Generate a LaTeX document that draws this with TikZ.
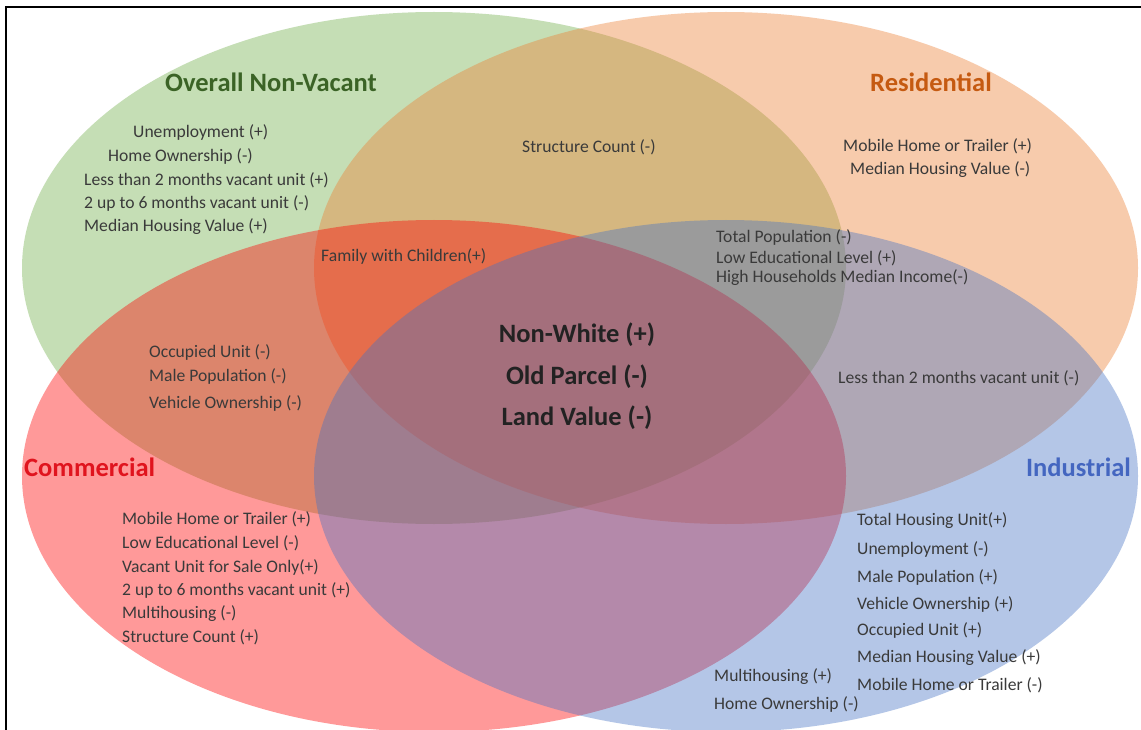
\documentclass[tikz,border=0pt]{standalone}
\usepackage{fontspec}
\setmainfont{Carlito}
\begin{document}
\begin{tikzpicture}[x=1pt,y=-1pt,
  set/.style={fill opacity=0.4, draw=none},
  item/.style={inner sep=0pt, anchor=west, text=itemgray, font=\fontsize{17.6}{20}\selectfont},
  core/.style={inner sep=0pt, text=coregray, font=\fontsize{26.5}{30}\bfseries\selectfont},
  title/.style={inner sep=0pt, font=\fontsize{26.5}{30}\bfseries\selectfont}]
\definecolor{cgreen}{HTML}{70AD47}
\definecolor{corange}{HTML}{ED7D31}
\definecolor{cred}{HTML}{FF0000}
\definecolor{cblue}{HTML}{4472C4}
\definecolor{tgreen}{HTML}{3B6326}
\definecolor{torange}{HTML}{C55A11}
\definecolor{tred}{HTML}{E0141E}
\definecolor{tblue}{HTML}{4466C0}
\definecolor{itemgray}{HTML}{3A3A3A}
\definecolor{coregray}{HTML}{222222}
\useasboundingbox (0,0) rectangle (1141,730);
\fill[white] (0,0) rectangle (1141,730);

% the four sets
\fill[set, cgreen]  (434,268) ellipse [x radius=412, y radius=256];
\fill[set, corange] (726,268) ellipse [x radius=412, y radius=256];
\fill[set, cred]    (434,476) ellipse [x radius=412, y radius=256];
\fill[set, cblue]   (726,476) ellipse [x radius=412, y radius=256];

% frame
\draw[line width=2pt] (6,730) -- (6,7) -- (1141,7);

% set titles
\node[title, text=tgreen]  (tNV)  at (271,82)  {Overall Non-Vacant};
\node[title, text=torange] (tRes) at (931,82)  {Residential};
\node[title, text=tred, anchor=west] (tCom) at (24,467) {Commercial};
\node[title, text=tblue, anchor=east] (tInd) at (1131,467) {Industrial};

% Overall Non-Vacant only
\node[item] (g1) at (133,132) {Unemployment (+)};
\node[item] (g2) at (108,156) {Home Ownership (-)};
\node[item] (g3) at (84,180)  {Less than 2 months vacant unit (+)};
\node[item] (g4) at (84,203)  {2 up to 6 months vacant unit (-)};
\node[item] (g5) at (84,227)  {Median Housing Value (+)};

% Non-Vacant and Residential
\node[item] (go1) at (522,147) {Structure Count (-)};

% Residential only
\node[item] (o1) at (843,146) {Mobile Home or Trailer (+)};
\node[item] (o2) at (850,170) {Median Housing Value (-)};

% Non-Vacant, Residential and Commercial
\node[item] (gor1) at (321,256) {Family with Children(+)};

% Non-Vacant, Residential and Industrial
\node[item] (gob1) at (716,237) {Total Population (-)};
\node[item] (gob2) at (716,258) {Low Educational Level (+)};
\node[item] (gob3) at (716,278) {High Households Median Income(-)};

% all four
\node[core] (c1) at (577,335) {Non-White (+)};
\node[core] (c2) at (577,377) {Old Parcel (-)};
\node[core] (c3) at (577,418) {Land Value (-)};

% Non-Vacant and Commercial
\node[item] (gr1) at (149,352) {Occupied Unit (-)};
\node[item] (gr2) at (149,376) {Male Population (-)};
\node[item] (gr3) at (149,403) {Vehicle Ownership (-)};

% Residential and Industrial
\node[item] (ob1) at (838,378) {Less than 2 months vacant unit (-)};

% Commercial only
\node[item] (r1) at (122,519) {Mobile Home or Trailer (+)};
\node[item] (r2) at (122,543) {Low Educational Level (-)};
\node[item] (r3) at (122,567) {Vacant Unit for Sale Only(+)};
\node[item] (r4) at (122,590) {2 up to 6 months vacant unit (+)};
\node[item] (r5) at (122,614) {Multihousing (-)};
\node[item] (r6) at (122,637) {Structure Count (+)};

% Industrial only
\node[item] (b1) at (857,521) {Total Housing Unit(+)};
\node[item] (b2) at (857,549) {Unemployment (-)};
\node[item] (b3) at (857,577) {Male Population (+)};
\node[item] (b4) at (857,604) {Vehicle Ownership (+)};
\node[item] (b5) at (857,630) {Occupied Unit (+)};
\node[item] (b6) at (857,658) {Median Housing Value (+)};
\node[item] (b7) at (857,685) {Mobile Home or Trailer (-)};
\node[item] (b8) at (714,677) {Multihousing (+)};
\node[item] (b9) at (714,704) {Home Ownership (-)};
\end{tikzpicture}
\end{document}
